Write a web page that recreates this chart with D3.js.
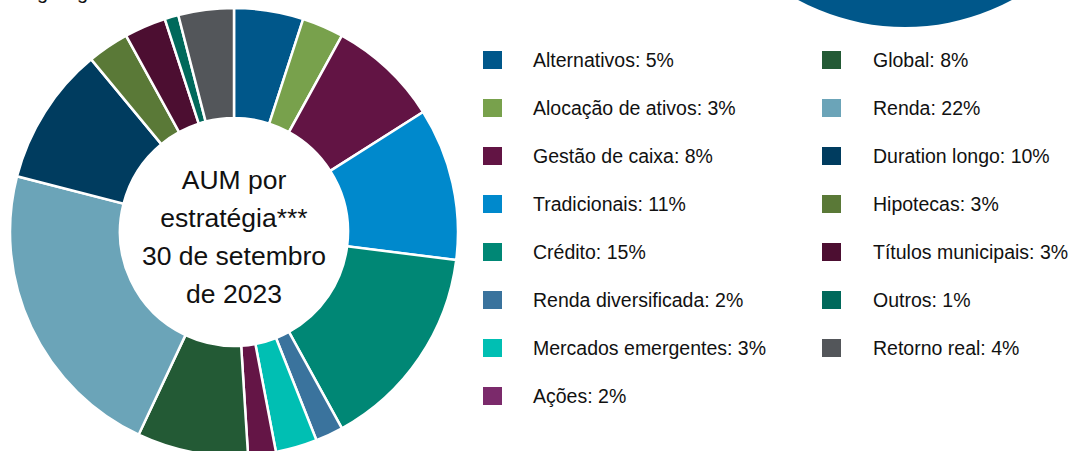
<!DOCTYPE html>
<html lang="pt">
<head>
<meta charset="utf-8">
<title>AUM por estratégia</title>
<script src="https://d3js.org/d3.v7.min.js"></script>
<style>
  body { margin: 0; background: #fff; }
  svg { display: block; font-family: "Liberation Sans", Arial, sans-serif; }
</style>
</head>
<body>
<script>
// categorias e valores (%)
var categories = ["Alternativos", "Alocação de ativos", "Gestão de caixa", "Tradicionais",
  "Crédito", "Renda diversificada", "Mercados emergentes", "Ações",
  "Global", "Renda", "Duration longo", "Hipotecas", "Títulos municipais", "Outros", "Retorno real"];
var values = [5, 3, 8, 11, 15, 2, 3, 2, 8, 22, 10, 3, 3, 1, 4];
var sliceColors = ["#00578a", "#78a14c", "#621444", "#0089cc", "#008775", "#3a739d", "#00bfb3", "#641546",
  "#235a35", "#6ba4b8", "#003c5f", "#5a7937", "#4c0e31", "#00695b", "#53565a"];
var legendColors = sliceColors.slice();
legendColors[7] = "#7b2a6b";
var centerLines = ["AUM por", "estratégia***", "30 de setembro", "de 2023"];

var width = 1068, height = 451;
var cx = 234, cy = 232, outerR = 224, innerR = 114;

var svg = d3.select("body").append("svg")
  .attr("width", width)
  .attr("height", height);

// pedaço de título cortado no topo
svg.append("g").selectAll("text")
  .data([37, 77])
  .enter().append("text")
  .attr("x", function(d) { return d; })
  .attr("y", -1)
  .attr("font-size", "20px")
  .attr("fill", "#111")
  .text("g");

// círculo cortado no canto superior direito
svg.append("circle")
  .attr("cx", 905)
  .attr("cy", -198)
  .attr("r", 225)
  .attr("fill", "#00578a");

var data = categories.map(function(c, i) { return {name: c, value: values[i], color: sliceColors[i], legend: legendColors[i]}; });

var pie = d3.pie().sort(null).value(function(d) { return d.value; });
var arc = d3.arc().innerRadius(innerR).outerRadius(outerR);

var donut = svg.append("g").attr("transform", "translate(" + cx + "," + cy + ")");

donut.selectAll("path")
  .data(pie(data))
  .enter().append("path")
  .attr("d", arc)
  .attr("fill", function(d) { return d.data.color; })
  .attr("stroke", "#fff")
  .attr("stroke-width", 2.5);

donut.append("g").selectAll("text")
  .data(centerLines)
  .enter().append("text")
  .attr("x", 0)
  .attr("y", function(d, i) { return -52 + i * 38 + 9; })
  .attr("text-anchor", "middle")
  .attr("font-size", "26.5px")
  .attr("fill", "#111")
  .text(function(d) { return d; });

// legenda em duas colunas
var rowY = d3.scaleLinear().domain([0, 1]).range([60, 108]);
var legend = svg.append("g");
var items = legend.selectAll("g")
  .data(data)
  .enter().append("g")
  .attr("transform", function(d, i) {
    var col = i < 8 ? 0 : 1;
    var row = i < 8 ? i : i - 8;
    return "translate(" + (col === 0 ? 483 : 822) + "," + rowY(row) + ")";
  });

items.append("rect")
  .attr("x", 0)
  .attr("y", -9)
  .attr("width", 19)
  .attr("height", 18)
  .attr("fill", function(d) { return d.legend; });

items.append("text")
  .attr("x", function(d, i) { return i < 8 ? 50 : 51; })
  .attr("y", 7)
  .attr("font-size", "19.5px")
  .attr("fill", "#111")
  .text(function(d) { return d.name + ": " + d.value + "%"; });
</script>
</body>
</html>
